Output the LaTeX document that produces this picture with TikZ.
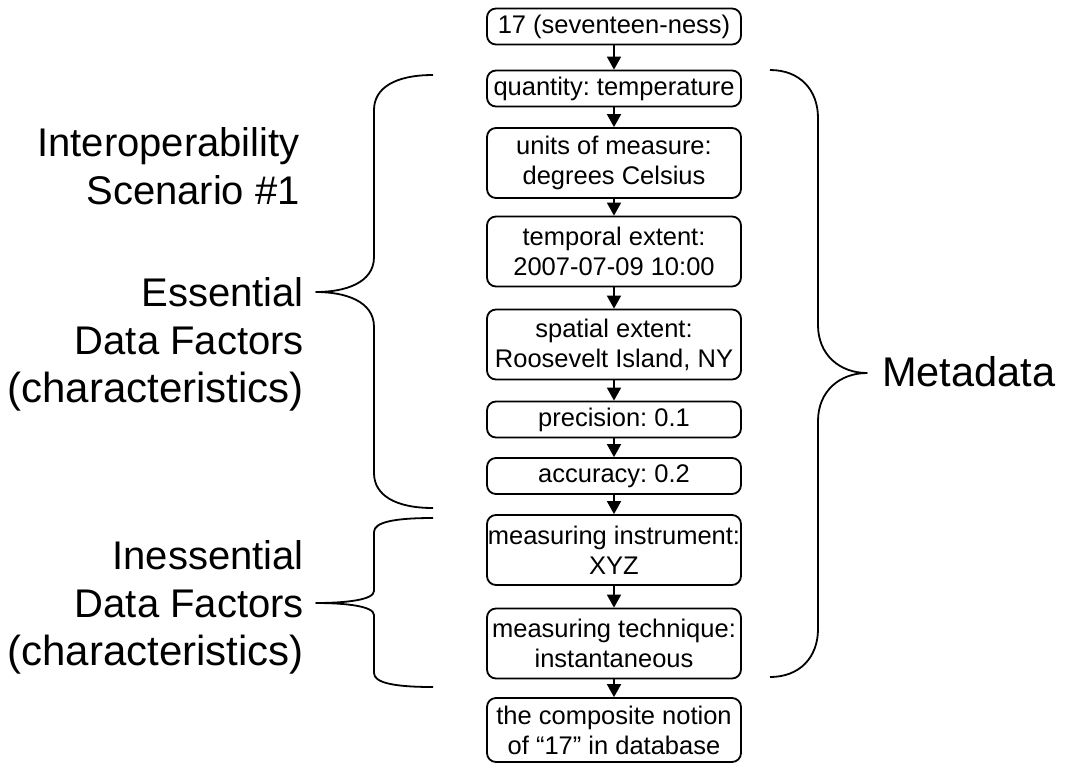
\documentclass[tikz,border=0pt]{standalone}
\usepackage{fontspec}
\setmainfont{Liberation Sans}
\usetikzlibrary{arrows.meta}
\frenchspacing
\newcommand{\widerline}[1]{{\fontsize{42}{48}\selectfont #1}}
\tikzset{
  x=1pt, y=-1pt,
  box/.style={draw, line width=1.8pt, rounded corners=9pt, minimum width=254pt, inner sep=0pt, align=center, font=\fontsize{25.5}{30}\selectfont\frenchspacing},
  onebox/.style={box, minimum height=36pt},
  twobox/.style={box, minimum height=70pt},
  flow/.style={line width=1.8pt, -{Triangle[width=14pt,length=13pt]}},
  brace/.style={line width=1.8pt, line join=round},
  side/.style={align=right, inner sep=0pt, font=\fontsize{40}{48}\selectfont},
}
\begin{document}
\begin{tikzpicture}
\useasboundingbox (0,0) rectangle (1074,764);
% boxes
\node[onebox] (b1) at (614,26.5) {17 (seventeen-ness)};
\node[onebox] (b2) at (614,88.5) {quantity: temperature};
\node[twobox] (b3) at (614,163) {units of measure:\\degrees Celsius};
\node[twobox] (b4) at (614,251.5) {temporal extent:\\2007-07-09 10:00};
\node[twobox] (b5) at (614,344.5) {spatial extent:\\Roosevelt Island, NY};
\node[onebox] (b6) at (614,419.5) {precision: 0.1};
\node[onebox] (b7) at (614,476) {accuracy: 0.2};
\node[twobox] (b8) at (614,550) {measuring instrument:\\XYZ};
\node[twobox] (b9) at (614,643.5) {measuring technique:\\instantaneous};
\node[box, minimum height=64pt] (b10) at (614,730) {the composite notion\\of “17” in database};
% arrows
\foreach \a/\b in {b1/b2,b2/b3,b3/b4,b4/b5,b5/b6,b6/b7,b7/b8,b8/b9,b9/b10}
  \draw[flow] (\a.south) -- (\b.north);
% left labels
\node[side, anchor=east] (interop) at (300,166) {Interoperability\\Scenario \#1};
\node[side, anchor=east] (essential) at (304,344) {Essential\\Data Factors\\\widerline{(characteristics)}};
\node[side, anchor=east] (inessential) at (304,607) {Inessential\\Data Factors\\\widerline{(characteristics)}};
\node[side, anchor=west, font=\fontsize{41.5}{48}\selectfont] (meta) at (882,372) {Metadata};
% braces
\coordinate (t1) at (316,292);
\coordinate (t2) at (316,603);
\coordinate (t3) at (867,373);
\draw[brace] (433,75) .. controls (395,75) and (374,88) .. (374,110) -- (374,257)
  .. controls (374,283) and (345,292) .. (t1)
  .. controls (345,292) and (374,301) .. (374,327) -- (374,473)
  .. controls (374,495) and (395,508) .. (433,508);
\draw[brace] (433,518) .. controls (395,518) and (374,522) .. (374,532) -- (374,591)
  .. controls (374,600) and (345,603) .. (t2)
  .. controls (345,603) and (374,606) .. (374,615) -- (374,673)
  .. controls (374,683) and (395,687) .. (433,687);
\draw[brace] (770,70) .. controls (800,70) and (818,90) .. (818,118) -- (818,325)
  .. controls (818,355) and (840,373) .. (t3)
  .. controls (840,373) and (818,391) .. (818,421) -- (818,629)
  .. controls (818,657) and (800,677) .. (770,677);
\end{tikzpicture}
\end{document}
